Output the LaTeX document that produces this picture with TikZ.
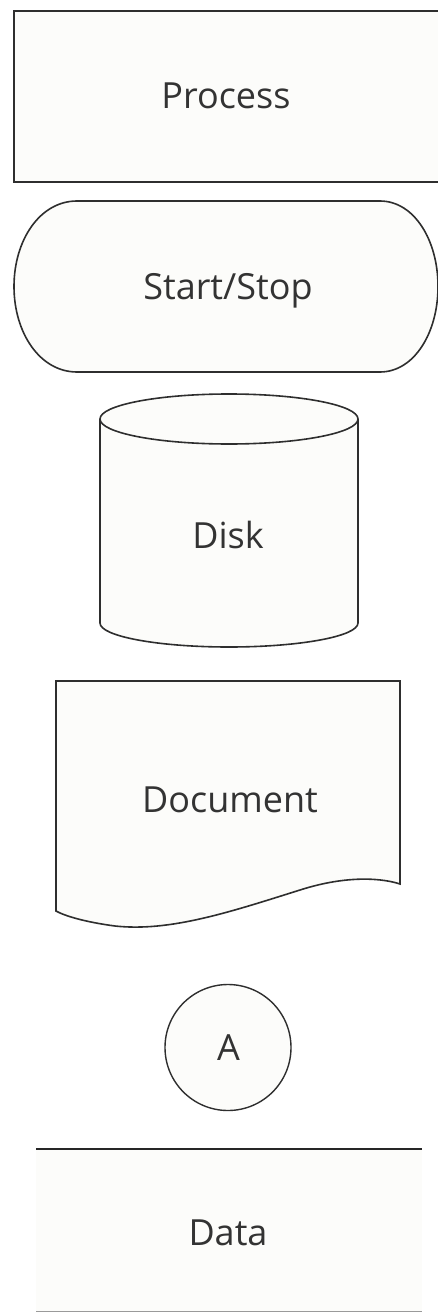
\documentclass[tikz,border=0pt]{standalone}
\usepackage{fontspec}
\setmainfont{Open Sans}
\definecolor{bg}{HTML}{FCFCFA}
\definecolor{ink}{HTML}{2E2E2E}
\definecolor{txt}{HTML}{333333}
\definecolor{lite}{HTML}{9A9A9A}
\begin{document}
\begin{tikzpicture}[x=1pt,y=-1pt,
  shapeline/.style={draw=ink,line width=1.6pt,fill=bg},
  lbl/.style={text=txt,font=\fontsize{36}{40}\selectfont,inner sep=0pt,anchor=base},
]
\useasboundingbox (0,0) rectangle (438,1313);
\fill[white] (0,0) rectangle (438,1313);
\begin{scope}
\clip (0,0) rectangle (438,1313);
% Process
\draw[shapeline,line width=2pt] (14,11) rectangle (445,182);
\node[lbl] (process) at (226,109) {Process};
% Start/Stop
\draw[shapeline] (77,201) -- (380,201)
  .. controls (414,201) and (438,240) .. (438,286.5)
  .. controls (438,333) and (414,372) .. (380,372)
  -- (77,372)
  .. controls (40,372) and (14,333) .. (14,286.5)
  .. controls (14,240) and (40,201) .. (77,201) -- cycle;
\node[lbl] (startstop) at (228,299) {Start/Stop};
% Disk
\draw[shapeline] (100,419) -- (100,623) arc[start angle=180,end angle=0,x radius=129,y radius=24] -- (358,419);
\draw[shapeline] (229,419) ellipse[x radius=129,y radius=25];
\node[lbl] (disk) at (228,548) {Disk};
% Document
\draw[shapeline] (56,681) -- (400,681) -- (400,884)
  .. controls (385,879) and (350,874) .. (300,890)
  .. controls (230,912) and (170,932) .. (115,926)
  .. controls (85,922) and (65,916) .. (56,911) -- cycle;
\node[lbl] (document) at (230,812) {Document};
% Connector A
\draw[draw=ink,line width=1.4pt,fill=bg] (228,1047.5) circle[radius=63];
\node[lbl] (a) at (228.5,1060) {A};
% Data
\fill[bg] (36,1149) rectangle (422,1311);
\draw[draw=black!85,line width=1.6pt] (36,1149) -- (422,1149);
\draw[draw=lite,line width=1.4pt] (36,1311.5) -- (422,1311.5);
\node[lbl] (data) at (228,1245) {Data};
\end{scope}
\end{tikzpicture}
\end{document}
